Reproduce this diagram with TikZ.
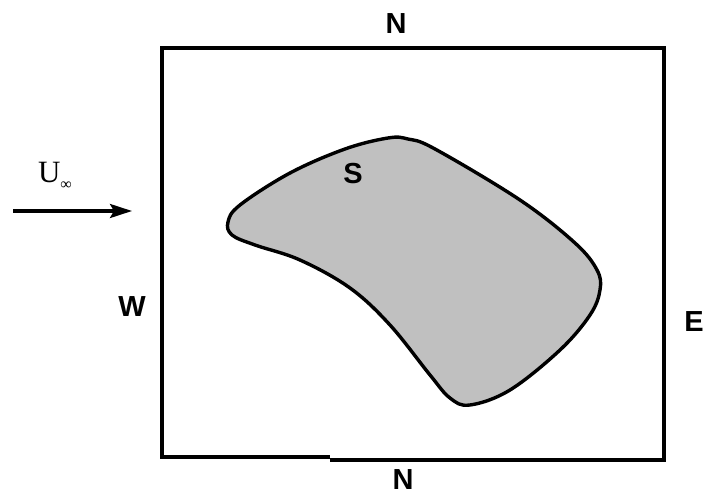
\documentclass[tikz,border=0pt]{standalone}
\usepackage{fontspec}
\setmainfont{Liberation Sans}
\newfontfamily\serifU{Liberation Serif}
\usetikzlibrary{arrows.meta}
\tikzset{
  lbl/.style={font=\fontsize{29}{31}\selectfont\bfseries, inner sep=0pt},
  edge/.style={line width=3.6pt, line join=miter},
  body/.style={fill={rgb,255:red,192;green,192;blue,192}, draw=black, line width=3.4pt},
  flow/.style={line width=3.2pt, -{Stealth[length=22pt,width=14pt,inset=4pt]}}
}
\begin{document}
\begin{tikzpicture}[x=1pt,y=-1pt]
\useasboundingbox (0,0) rectangle (705,495);
% control volume
\draw[edge] (330,460) -- (664,460) -- (664,48) -- (162,48) -- (162,457) -- (330,457);
% body
\draw[body] plot[smooth cycle, tension=0.6] coordinates {
 (388,138) (408,139) (435,149) (520,200) (575,243) (597,270) (600,290) (590,315)
 (560,350) (510,390) (470,405) (450,398) (430,375) (390,325) (350,288)
 (300,260) (255,245) (232,235) (228,222) (240,205) (290,173) (345,149)};
\node[lbl] (S) at (353,174) {S};
% labels
\node[lbl] (Ntop) at (396,24) {N};
\node[lbl] (Nbot) at (403,480) {N};
\node[lbl] (W) at (132,307) {W};
\node[lbl] (E) at (694,322) {E};
% free stream
\node[inner sep=0pt, font=\serifU\fontsize{31}{33}\selectfont] (U) at (55,176) {U\raisebox{-7pt}{\fontsize{16}{16}\selectfont ∞}};
\coordinate (a0) at (13,211);
\coordinate (a1) at (132,211);
\draw[flow] (a0) -- (a1);
\end{tikzpicture}
\end{document}
